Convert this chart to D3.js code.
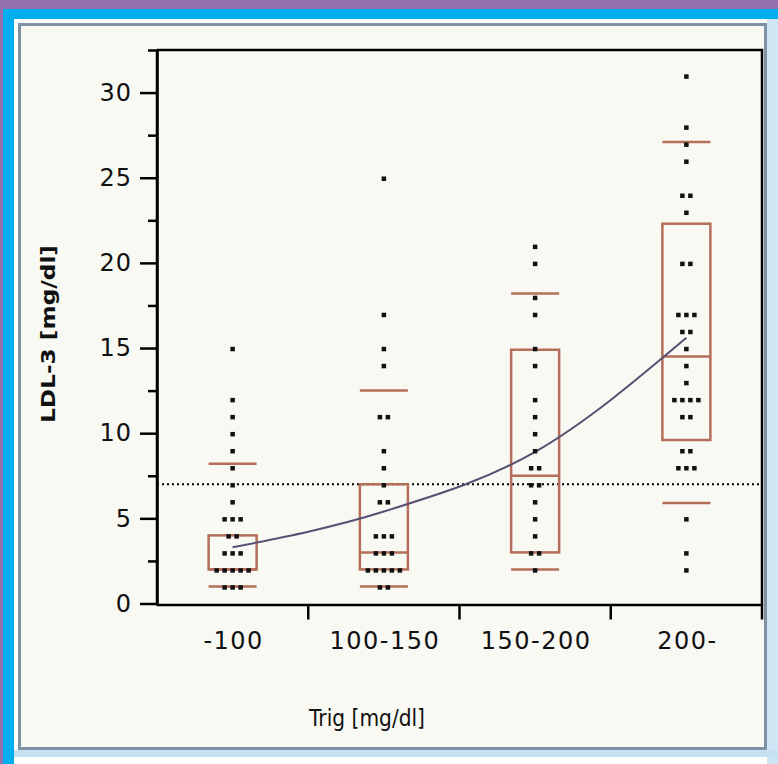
<!DOCTYPE html>
<html>
<head>
<meta charset="utf-8">
<script src="https://cdnjs.cloudflare.com/ajax/libs/d3/7.8.5/d3.min.js"></script>
<style>
  html, body { margin: 0; padding: 0; background: #fff; }
  svg { display: block; }
  text { font-family: "DejaVu Sans", sans-serif; fill: #111; }
</style>
</head>
<body>
<div id="chart"></div>
<script>
const categories = ['-100', '100-150', '150-200', '200-'];

// LDL-3 values per Trig group
const g100 = [15, 12, 11, 10, 9, 8, 7, 6, 5, 5, 5, 4, 4, 3, 3, 3, 2, 2, 2, 2, 2, 1, 1, 1];
const g150 = [25, 17, 15, 14, 11, 11, 9, 8, 7, 6, 6, 4, 4, 4, 3, 3, 3, 2, 2, 2, 2, 2, 1, 1];
const g200 = [21, 20, 18, 17, 15, 14, 12, 11, 10, 9, 8, 8, 7, 7, 6, 5, 4, 3, 3, 2];
const g200plus = [31, 28, 27, 26, 24, 24, 23, 20, 20, 17, 17, 17, 16, 16, 15, 14, 13, 12, 12, 12, 12, 11, 11, 9, 9, 8, 8, 8, 5, 3, 2];
const groups = [g100, g150, g200, g200plus];

// box summaries (10th / 25th / 50th / 75th / 90th)
const p10 = [1, 1, 2, 5.9];
const q1 = [2, 2, 3, 9.6];
const median = [2, 3, 7.5, 14.5];
const q3 = [4, 7, 14.9, 22.3];
const p90 = [8.2, 12.5, 18.2, 27.1];

// fitted trend through the groups
const trend = [3.3, 5.4, 8.9, 15.6];

const refLine = 7;
const majorTicks = [0, 5, 10, 15, 20, 25, 30];
const minorTicks = [2.5, 7.5, 12.5, 17.5, 22.5, 27.5, 32.5];

const W = 778, H = 764;
const plotLeft = 157, plotRight = 762, plotTop = 50, plotBottom = 603.5;

const svg = d3.select('#chart').append('svg')
  .attr('width', W)
  .attr('height', H);

// frame
svg.append('rect').attr('width', W).attr('height', H).attr('fill', '#9370ae');
svg.append('rect').attr('x', 3).attr('y', 9).attr('width', W - 3).attr('height', H - 9).attr('fill', '#00adef');
svg.append('rect').attr('x', 14).attr('y', 19).attr('width', W - 14).attr('height', H - 19).attr('fill', '#ffffff');
svg.append('rect').attr('x', 767).attr('y', 19).attr('width', 11).attr('height', H - 19).attr('fill', '#cfe7f4');
svg.append('rect').attr('x', 14).attr('y', 750).attr('width', W - 14).attr('height', 7).attr('fill', '#c6e1f1');
svg.append('rect')
  .attr('x', 19.5).attr('y', 24.5)
  .attr('width', 746).attr('height', 724)
  .attr('fill', '#f9f9f3')
  .attr('stroke', '#7d93a4')
  .attr('stroke-width', 3);

const x = d3.scaleBand()
  .domain(categories)
  .range([plotLeft, plotRight])
  .padding(0);

const y = d3.scaleLinear()
  .domain([0, 32.5])
  .range([plotBottom, plotTop]);

const cx = function(c) { return x(c) + x.bandwidth() / 2; };
const half = 24;

// plot border (top and right)
svg.append('path')
  .attr('d', 'M' + plotLeft + ',' + y(32.5) + 'H' + plotRight + 'V' + (plotBottom + 2))
  .attr('fill', 'none')
  .attr('stroke', '#000')
  .attr('stroke-width', 2.5);

// reference line
svg.append('line')
  .attr('x1', plotLeft).attr('x2', plotRight)
  .attr('y1', y(refLine)).attr('y2', y(refLine))
  .attr('stroke', '#000')
  .attr('stroke-width', 2)
  .attr('stroke-dasharray', '2,3');

const boxColor = '#b46e5a';

const box = svg.selectAll('.box')
  .data(categories)
  .enter()
  .append('g')
  .attr('class', 'box');

box.append('rect')
  .attr('x', function(d) { return cx(d) - half; })
  .attr('y', function(d, i) { return y(q3[i]); })
  .attr('width', half * 2)
  .attr('height', function(d, i) { return y(q1[i]) - y(q3[i]); })
  .attr('fill', 'none')
  .attr('stroke', boxColor)
  .attr('stroke-width', 2.5);

[median, p10, p90].forEach(function(arr) {
  box.append('line')
    .attr('x1', function(d) { return cx(d) - half; })
    .attr('x2', function(d) { return cx(d) + half; })
    .attr('y1', function(d, i) { return y(arr[i]); })
    .attr('y2', function(d, i) { return y(arr[i]); })
    .attr('stroke', boxColor)
    .attr('stroke-width', 2.5);
});

// trend curve
const line = d3.line()
  .x(function(d, i) { return cx(categories[i]); })
  .y(function(d) { return y(d); })
  .curve(d3.curveMonotoneX);

svg.append('path')
  .datum(trend)
  .attr('d', line)
  .attr('fill', 'none')
  .attr('stroke', '#575072')
  .attr('stroke-width', 2);

// points, duplicates set side by side
const pts = [];
groups.forEach(function(vals, gi) {
  const counts = d3.rollup(vals, function(v) { return v.length; }, function(v) { return v; });
  const seen = new Map();
  vals.forEach(function(v) {
    const k = counts.get(v);
    const j = seen.get(v) || 0;
    seen.set(v, j + 1);
    pts.push({cat: categories[gi], value: v, off: (j - (k - 1) / 2) * 8});
  });
});

const dot = 4.5;
svg.selectAll('.pt')
  .data(pts)
  .enter()
  .append('rect')
  .attr('class', 'pt')
  .attr('x', function(d) { return cx(d.cat) + d.off - dot / 2; })
  .attr('y', function(d) { return y(d.value) - dot / 2 + 1; })
  .attr('width', dot)
  .attr('height', dot)
  .attr('fill', '#111');

// axes
const yAxis = d3.axisLeft(y)
  .tickValues(majorTicks)
  .tickSize(17)
  .tickSizeOuter(0)
  .tickPadding(8)
  .tickFormat(d3.format('d'));

const yMinor = d3.axisLeft(y)
  .tickValues(minorTicks)
  .tickSize(9)
  .tickSizeOuter(0)
  .tickFormat('');

const gy = svg.append('g')
  .attr('transform', 'translate(' + plotLeft + ',0)')
  .call(yAxis);
const gyMinor = svg.append('g')
  .attr('transform', 'translate(' + plotLeft + ',0)')
  .call(yMinor);

const xAxis = d3.axisBottom(x)
  .tickSize(0)
  .tickPadding(27)
  .tickSizeOuter(0);

const gx = svg.append('g')
  .attr('transform', 'translate(0,' + (plotBottom + 1.5) + ')')
  .call(xAxis);

// category boundary ticks under the axis
svg.selectAll('.bound')
  .data(categories)
  .enter()
  .append('line')
  .attr('x1', function(d) { return x(d) + x.bandwidth(); })
  .attr('x2', function(d) { return x(d) + x.bandwidth(); })
  .attr('y1', plotBottom + 1.5)
  .attr('y2', plotBottom + 16)
  .attr('stroke', '#000')
  .attr('stroke-width', 2.5);

[gy, gyMinor, gx].forEach(function(g) {
  g.select('.domain').attr('stroke', '#000').attr('stroke-width', 2.5);
  g.selectAll('.tick line').attr('stroke', '#000').attr('stroke-width', 2.5);
});
gy.select('.domain').attr('d', 'M0,' + (plotBottom + 2) + 'V' + y(32.5));
gx.select('.domain').attr('d', 'M' + plotLeft + ',0H' + plotRight);

gy.selectAll('.tick text')
  .style('font-size', '24px')
  .style('letter-spacing', '1px')
  .style('font-family', '"DejaVu Sans", sans-serif')
  .attr('fill', '#111');

gx.selectAll('.tick text')
  .style('font-size', '24px')
  .style('letter-spacing', '1.5px')
  .style('font-family', '"DejaVu Sans", sans-serif')
  .attr('fill', '#111')
  .attr('dx', 1);

// axis titles
svg.append('text')
  .attr('x', 367)
  .attr('y', 726)
  .attr('text-anchor', 'middle')
  .attr('textLength', 116)
  .attr('lengthAdjust', 'spacingAndGlyphs')
  .style('font-size', '23px')
  .text('Trig [mg/dl]');

svg.append('text')
  .attr('transform', 'translate(55,334) rotate(-90)')
  .attr('text-anchor', 'middle')
  .attr('textLength', 178)
  .attr('lengthAdjust', 'spacingAndGlyphs')
  .style('font-size', '19px')
  .style('font-weight', 'bold')
  .text('LDL-3 [mg/dl]');
</script>
</body>
</html>
